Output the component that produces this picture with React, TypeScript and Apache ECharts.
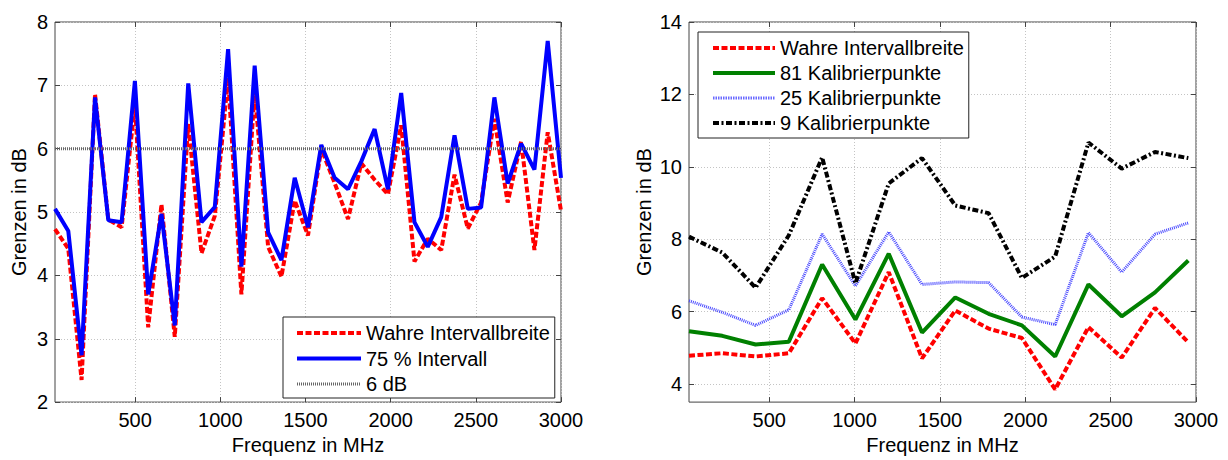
import React, { useEffect, useRef } from "react";
import * as echarts from "echarts";

// ---------- data ----------
const leftFreq = [
  30, 108, 186, 265, 343, 421, 499, 577, 655, 733, 812, 890, 968, 1046, 1124, 1202, 1281, 1359, 1437, 1515,
  1593, 1671, 1750, 1828, 1906, 1984, 2062, 2140, 2218, 2297, 2375, 2453, 2531, 2609, 2687, 2766, 2844, 2922, 3000,
];
const leftWahre = [
  4.73, 4.42, 2.35, 6.86, 4.88, 4.76, 6.7, 3.18, 5.12, 3.03, 6.39, 4.35, 4.94, 7.12, 3.7, 6.91, 4.45, 3.98, 5.18,
  4.63, 6.0, 5.46, 4.89, 5.77, 5.51, 5.28, 6.37, 4.22, 4.58, 4.4, 5.59, 4.74, 5.15, 6.47, 5.15, 6.11, 4.4, 6.26, 5.02,
];
const leftIntervall75 = [
  5.05, 4.7, 2.74, 6.81, 4.87, 4.84, 7.07, 3.7, 4.97, 3.21, 7.03, 4.84, 5.08, 7.57, 4.14, 7.31, 4.68, 4.24, 5.54,
  4.76, 6.06, 5.54, 5.36, 5.8, 6.31, 5.36, 6.88, 4.84, 4.45, 4.92, 6.21, 5.05, 5.07, 6.81, 5.45, 6.08, 5.67, 7.7, 5.54,
];
const limitDb = 6;

const rightFreq = [30, 225, 420, 615, 810, 1005, 1200, 1395, 1590, 1785, 1980, 2175, 2370, 2565, 2760, 2955];
const rightWahre = [4.78, 4.85, 4.76, 4.85, 6.37, 5.12, 7.09, 4.71, 6.03, 5.53, 5.27, 3.85, 5.57, 4.73, 6.1, 5.15];
const kal81 = [5.46, 5.33, 5.09, 5.17, 7.3, 5.78, 7.6, 5.42, 6.39, 5.94, 5.62, 4.76, 6.75, 5.87, 6.53, 7.41];
const kal25 = [6.3, 5.98, 5.62, 6.05, 8.14, 6.71, 8.2, 6.75, 6.82, 6.8, 5.85, 5.64, 8.18, 7.09, 8.14, 8.45];
const kal9 = [8.07, 7.63, 6.66, 8.11, 10.26, 6.78, 9.54, 10.24, 8.93, 8.72, 6.93, 7.52, 10.67, 9.95, 10.41, 10.24];

const xTicks = [500, 1000, 1500, 2000, 2500, 3000];
const leftYTicks = [2, 3, 4, 5, 6, 7, 8];
const rightYTicks = [4, 6, 8, 10, 12, 14];

const xName = "Frequenz in MHz";
const yName = "Grenzen in dB";

const FONT = "'Liberation Sans', Arial, Helvetica, sans-serif";

const pairs = (xs: number[], ys: number[]) => xs.map((x, i) => [x, ys[i]]);

export default function App() {
  const ref = useRef<HTMLDivElement>(null);

  useEffect(() => {
    if (!ref.current) return;
    const chart = echarts.init(ref.current, undefined, { renderer: "svg" });

    const gridLine = { show: true, lineStyle: { color: "#c4c4c4", width: 1, type: [1, 2] as any } };
    const tickStyle = { lineStyle: { color: "#444", width: 1 } };
    const labelStyle = { color: "#000", fontSize: 20, fontFamily: FONT };
    const nameStyle = { color: "#000", fontSize: 20, fontFamily: FONT };
    const plain = (v: number) => String(v);

    const redStyle = { color: "#ff0000", width: 4, type: [6, 2.5] as any };
    const blueSolid = { color: "#0000ff", width: 4 };
    const grayDot = { color: "#666666", width: 3, type: [1, 1] as any };
    const greenSolid = { color: "#008000", width: 4 };
    const blueDot = { color: "#4a4aff", width: 3, type: [1, 1] as any };
    const blueDotLegend = { color: "#6a6aff", width: 3, type: [1.5, 1] as any };
    const blackDashDot = { color: "#000000", width: 4, type: [6, 2.5, 2, 2.5] as any };

    const mkX = (gi: number, main: boolean) => ({
      gridIndex: gi,
      type: "value",
      min: 30,
      max: 3000,
      position: main ? "bottom" : "top",
      axisLine: { show: false },
      axisTick: { show: true, inside: true, length: 5, customValues: xTicks, ...tickStyle },
      axisLabel: main
        ? { show: true, customValues: xTicks, margin: 8, formatter: plain, ...labelStyle }
        : { show: false },
      splitLine: main ? { ...gridLine } : { show: false },
      name: main ? xName : "",
      nameLocation: "middle",
      nameGap: 30,
      nameTextStyle: nameStyle,
    });

    const mkY = (gi: number, main: boolean, min: number, max: number, ticks: number[], gap: number) => ({
      gridIndex: gi,
      type: "value",
      min,
      max,
      position: main ? "left" : "right",
      axisLine: { show: false },
      axisTick: { show: true, inside: true, length: 5, customValues: ticks, ...tickStyle },
      axisLabel: main
        ? { show: true, customValues: ticks, margin: 7, formatter: plain, ...labelStyle }
        : { show: false },
      splitLine: main ? { ...gridLine } : { show: false },
      name: main ? yName : "",
      nameLocation: "middle",
      nameGap: gap,
      nameRotate: 90,
      nameTextStyle: nameStyle,
    });

    const legendBase = {
      orient: "vertical",
      itemHeight: 20,
      selectedMode: false,
      backgroundColor: "#fff",
      borderColor: "#222",
      borderWidth: 1,
      borderRadius: 0,
      itemStyle: { opacity: 0 },
      textStyle: { color: "#000", fontSize: 20, lineHeight: 20, fontFamily: FONT },
    };

    const li = (name: string, ls: any) => ({ name, lineStyle: { ...ls } });

    chart.setOption({
      animation: false,
      backgroundColor: "#fff",
      grid: [
        { left: 55, top: 22, width: 506, height: 386, show: true, borderColor: "#444", borderWidth: 1, backgroundColor: "transparent" },
        { left: 689, top: 22, width: 507, height: 386, show: true, borderColor: "#444", borderWidth: 1, backgroundColor: "transparent" },
      ],
      xAxis: [mkX(0, true), mkX(0, false), mkX(1, true), mkX(1, false)],
      yAxis: [
        mkY(0, true, 2, 8, leftYTicks, 26),
        mkY(0, false, 2, 8, leftYTicks, 26),
        mkY(1, true, 3.5, 14, rightYTicks, 35),
        mkY(1, false, 3.5, 14, rightYTicks, 35),
      ],
      legend: [
        {
          ...legendBase,
          data: [
            li("Wahre Intervallbreite", redStyle),
            li("75 % Intervall", blueSolid),
            li("6 dB", grayDot),
          ],
          left: 283,
          top: 317,
          itemWidth: 64,
          itemGap: 5.5,
          padding: [6, 5, 4, 12],
        },
        {
          ...legendBase,
          data: [
            li("Wahre Intervallbreite", redStyle),
            li("81 Kalibrierpunkte", greenSolid),
            li("25 Kalibrierpunkte", blueDotLegend),
            li("9 Kalibrierpunkte", blackDashDot),
          ],
          left: 698,
          top: 32,
          itemWidth: 62,
          itemGap: 5,
          padding: [6, 5, 5, 13],
        },
      ],
      series: [
        {
          name: "Wahre Intervallbreite",
          type: "line",
          xAxisIndex: 0,
          yAxisIndex: 0,
          data: pairs(leftFreq, leftWahre),
          symbol: "none",
          lineStyle: redStyle,
          itemStyle: { color: "#ff0000" },
        },
        {
          name: "75 % Intervall",
          type: "line",
          xAxisIndex: 0,
          yAxisIndex: 0,
          data: pairs(leftFreq, leftIntervall75),
          symbol: "none",
          lineStyle: blueSolid,
          itemStyle: { color: "#0000ff" },
        },
        {
          name: "6 dB",
          type: "line",
          xAxisIndex: 0,
          yAxisIndex: 0,
          data: [
            [leftFreq[0], limitDb],
            [leftFreq[leftFreq.length - 1], limitDb],
          ],
          symbol: "none",
          lineStyle: grayDot,
          itemStyle: { color: "#666666" },
        },
        {
          name: "Wahre Intervallbreite",
          type: "line",
          xAxisIndex: 2,
          yAxisIndex: 2,
          data: pairs(rightFreq, rightWahre),
          symbol: "none",
          lineStyle: redStyle,
          itemStyle: { color: "#ff0000" },
        },
        {
          name: "81 Kalibrierpunkte",
          type: "line",
          xAxisIndex: 2,
          yAxisIndex: 2,
          data: pairs(rightFreq, kal81),
          symbol: "none",
          lineStyle: greenSolid,
          itemStyle: { color: "#008000" },
        },
        {
          name: "25 Kalibrierpunkte",
          type: "line",
          xAxisIndex: 2,
          yAxisIndex: 2,
          data: pairs(rightFreq, kal25),
          symbol: "none",
          lineStyle: blueDot,
          itemStyle: { color: "#4a4aff" },
        },
        {
          name: "9 Kalibrierpunkte",
          type: "line",
          xAxisIndex: 2,
          yAxisIndex: 2,
          data: pairs(rightFreq, kal9),
          symbol: "none",
          lineStyle: blackDashDot,
          itemStyle: { color: "#000000" },
        },
      ],
    });

    return () => chart.dispose();
  }, []);

  return (
    <div
      ref={ref}
      style={{ position: "absolute", left: 0, top: 0, width: 1228, height: 460, background: "#fff" }}
    />
  );
}
